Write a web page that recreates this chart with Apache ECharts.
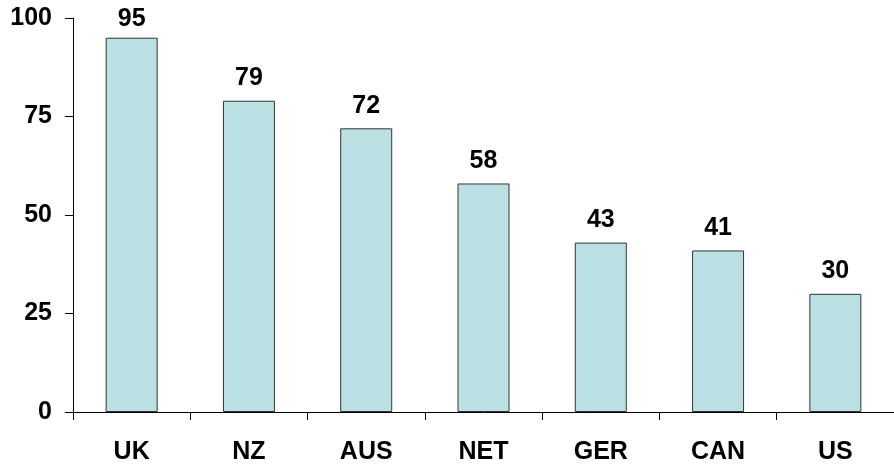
<!DOCTYPE html>
<html><head><meta charset="utf-8">
<script src="https://cdn.jsdelivr.net/npm/echarts@6/dist/echarts.min.js"></script>
<style>html,body{margin:0;padding:0;background:#fff}#c{width:894px;height:468px}</style>
</head><body><div id="c"></div>
<script>
const categories = ['UK','NZ','AUS','NET','GER','CAN','US'];
const values = [95,79,72,58,43,41,30];
const yTicks = [0,25,50,75,100];

const chart = echarts.init(document.getElementById('c'));
const font = 'Liberation Sans, Arial, sans-serif';
const labelStyle = {color:'#000',fontFamily:font,fontWeight:'bold',fontSize:25};
chart.setOption({
  animation:false,
  grid:{left:73,top:18,width:826,height:394,containLabel:false},
  xAxis:{type:'category',data:categories,
    axisLine:{lineStyle:{color:'#000',width:1}},
    axisTick:{show:true,alignWithLabel:false,length:8,lineStyle:{color:'#000'}},
    axisLabel:Object.assign({margin:28},labelStyle)},
  yAxis:{type:'value',min:yTicks[0],max:yTicks[yTicks.length-1],interval:25,
    splitLine:{show:false},
    axisLine:{show:true,lineStyle:{color:'#000',width:1}},
    axisTick:{show:true,length:8,lineStyle:{color:'#000'}},
    axisLabel:Object.assign({margin:21},labelStyle)},
  series:[{type:'bar',
    data:values.map((v,i)=> i===0 ? {value:v,label:{distance:6}} : v),
    barWidth:52,
    itemStyle:{color:'#BAE0E3',borderColor:'#333',borderWidth:1},
    label:Object.assign({show:true,position:'top',distance:10},labelStyle)}]
});
</script></body></html>
